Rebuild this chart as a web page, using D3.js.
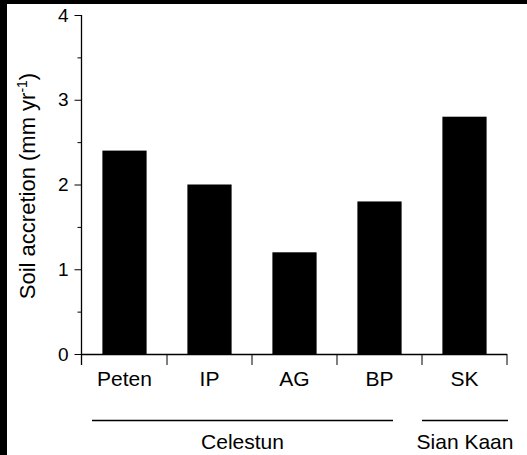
<!DOCTYPE html>
<html lang="en">
  <head>
    <meta charset="UTF-8" />
    <title>Soil accretion</title>
    <script src="https://cdn.jsdelivr.net/npm/d3@7"></script>
    <style>
      body { margin: 0; background: #fff; }
      svg text { font-family: "Liberation Sans", Arial, Helvetica, sans-serif; fill: #000; }
    </style>
  </head>
  <body>
    <svg id="chart"></svg>
  </body>
  <script>
    // data
    const sites = ["Peten", "IP", "AG", "BP", "SK"];
    const accretion = [2.4, 2.0, 1.2, 1.8, 2.8];
    const majorTicks = [0, 1, 2, 3, 4];
    const minorTicks = [0.5, 1.5, 2.5, 3.5];
    const groupNames = ["Celestun", "Sian Kaan"];
    const groupSpans = [[0, 4], [4, 5]]; // band edges each group covers

    const W = 527, H = 455;
    const svg = d3.select("#chart").attr("width", W).attr("height", H);

    svg.append("rect").attr("width", W).attr("height", H).attr("fill", "#fff");
    // dark frame bits at the left / top edge of the scan
    svg.append("rect").attr("x", 0).attr("y", 0).attr("width", 7).attr("height", H).attr("fill", "#000");
    svg.append("rect").attr("x", 0).attr("y", 0).attr("width", W).attr("height", 4).attr("fill", "#000");

    const x = d3.scaleBand().domain(sites).range([82, 507]).paddingInner(0.48).paddingOuter(0.24);
    const y = d3.scaleLinear().domain([0, 4]).range([354, 15]);

    // bars
    svg.append("g")
      .selectAll("rect")
      .data(sites)
      .join("rect")
      .attr("x", (d) => x(d))
      .attr("width", x.bandwidth())
      .attr("y", (d, i) => y(accretion[i]))
      .attr("height", (d, i) => y(0) - y(accretion[i]))
      .attr("fill", "#000");

    // y axis
    const yAxis = svg.append("g").attr("transform", "translate(81.5,0)");
    yAxis.call(
      d3.axisLeft(y).tickValues(majorTicks).tickSize(7).tickPadding(6).tickFormat(d3.format("d"))
    );
    yAxis.select(".domain").remove();
    yAxis.selectAll("text").style("font-size", "19px").attr("font-family", null);
    yAxis.selectAll(".tick line").attr("stroke", "#000");
    yAxis.selectAll(".minor")
      .data(minorTicks)
      .join("line")
      .attr("class", "minor")
      .attr("x1", -4)
      .attr("x2", 0)
      .attr("y1", (d) => y(d) + 0.5)
      .attr("y2", (d) => y(d) + 0.5)
      .attr("stroke", "#000");
    yAxis.append("line")
      .attr("x1", 0).attr("x2", 0)
      .attr("y1", y(4)).attr("y2", y(0) + 11)
      .attr("stroke", "#000").attr("stroke-width", 1.3);

    // x axis: baseline with ticks at band edges
    const step = x.step();
    const edges = d3.range(sites.length + 1).map((i) => 82 + i * step);
    const xAxis = svg.append("g");
    xAxis.append("line")
      .attr("x1", 82).attr("x2", edges[edges.length - 1])
      .attr("y1", y(0) + 0.5).attr("y2", y(0) + 0.5)
      .attr("stroke", "#000").attr("stroke-width", 1.3);
    xAxis.selectAll(".edge")
      .data(edges.slice(1))
      .join("line")
      .attr("class", "edge")
      .attr("x1", (d) => d).attr("x2", (d) => d)
      .attr("y1", y(0)).attr("y2", y(0) + 11)
      .attr("stroke", "#000");
    xAxis.selectAll(".cat")
      .data(sites)
      .join("text")
      .attr("class", "cat")
      .attr("x", (d) => x(d) + x.bandwidth() / 2)
      .attr("y", 386)
      .attr("text-anchor", "middle")
      .style("font-size", "21px")
      .text((d) => d);

    // site groups (Celestun line is inset from the band edges)
    const insets = [[10, -29], [0, 1]];
    const grp = svg.append("g");
    groupNames.forEach((name, i) => {
      const x0 = edges[groupSpans[i][0]] + insets[i][0],
        x1 = edges[groupSpans[i][1]] + insets[i][1];
      grp.append("line")
        .attr("x1", x0).attr("x2", x1)
        .attr("y1", 420.5).attr("y2", 420.5)
        .attr("stroke", "#000").attr("stroke-width", 1.3);
      grp.append("text")
        .attr("x", (x0 + x1) / 2)
        .attr("y", 449)
        .attr("text-anchor", "middle")
        .style("font-size", "21px")
        .text(name);
    });

    // y label
    const yl = svg.append("text")
      .attr("transform", "translate(35,186) rotate(-90)")
      .attr("text-anchor", "middle")
      .style("font-size", "22px");
    yl.append("tspan").text("Soil accretion (mm yr");
    yl.append("tspan").attr("dy", -8).style("font-size", "14px").text("-1");
    yl.append("tspan").attr("dy", 8).text(")");
  </script>
</html>
